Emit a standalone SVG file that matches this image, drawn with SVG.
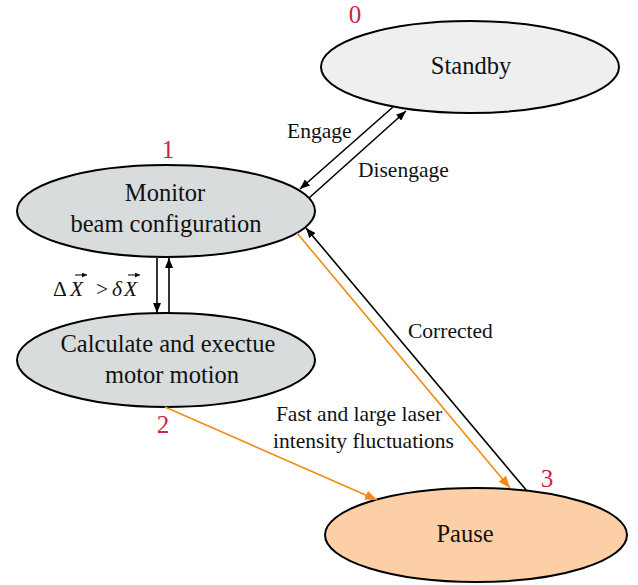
<svg xmlns="http://www.w3.org/2000/svg" width="638" height="585" viewBox="0 0 638 585">
<style>
.node{stroke:#000;stroke-width:2}
text{font-family:'Liberation Serif','DejaVu Serif',serif}
.t{font-size:24.5px;fill:#111;text-anchor:middle}
.l{font-size:21.5px;fill:#111}
.n{font-size:25px;fill:#d0204a;text-anchor:middle}
.k{stroke:#000;stroke-width:1.6;fill:none}
.o{stroke:#f28a12;stroke-width:1.6;fill:none}
.v{stroke:#111;stroke-width:1.1;fill:none}
</style>
<defs>
<marker id="ak" viewBox="0 0 10 8" refX="10" refY="4" markerWidth="10" markerHeight="8" markerUnits="userSpaceOnUse" orient="auto"><path d="M0,0L10,4L0,8z" fill="#000"/></marker>
<marker id="ao" viewBox="0 0 10 8" refX="10" refY="4" markerWidth="12" markerHeight="10" markerUnits="userSpaceOnUse" orient="auto"><path d="M0,0L10,4L0,8z" fill="#f28a12"/></marker>
<marker id="av" viewBox="0 0 6 6" refX="6" refY="3" markerWidth="5" markerHeight="5" markerUnits="userSpaceOnUse" orient="auto"><path d="M0,0L6,3L0,6z" fill="#111"/></marker>
</defs>
<rect width="638" height="585" fill="#fff"/>
<g id="standby"><ellipse class="node" cx="470" cy="67" rx="149" ry="46" fill="#eef0f0"/><text class="t" x="471" y="74">Standby</text><text class="n" x="355" y="23">0</text></g>
<g id="monitor"><ellipse class="node" cx="166" cy="211" rx="149" ry="46" fill="#d8dcdc"/><text class="t" x="165" y="201">Monitor</text><text class="t" x="166" y="232">beam configuration</text><text class="n" x="168" y="158">1</text></g>
<g id="calculate"><ellipse class="node" cx="166" cy="360" rx="149" ry="47" fill="#d8dcdc"/><text class="t" x="168" y="352">Calculate and exectue</text><text class="t" x="172" y="383">motor motion</text><text class="n" x="163" y="433">2</text></g>
<g id="pause"><ellipse class="node" cx="476" cy="535" rx="151" ry="47" fill="#fccfa6"/><text class="t" x="465" y="542">Pause</text><text class="n" x="547" y="487">3</text></g>
<g id="connectors">
<line class="k" x1="393" y1="107" x2="300" y2="189" marker-end="url(#ak)"/>
<line class="k" x1="309" y1="198" x2="406" y2="111" marker-end="url(#ak)"/>
<line class="k" x1="157" y1="258" x2="157" y2="313" marker-end="url(#ak)"/>
<line class="k" x1="169" y1="313" x2="169" y2="258" marker-end="url(#ak)"/>
<line class="o" x1="297" y1="233" x2="510" y2="488" marker-end="url(#ao)"/>
<line class="k" x1="527" y1="491" x2="306" y2="228" marker-end="url(#ak)"/>
<line class="o" x1="165" y1="407" x2="377" y2="500" marker-end="url(#ao)"/>
<text class="l" x="287" y="138">Engage</text>
<text class="l" x="358" y="177">Disengage</text>
<text class="l" x="408" y="338">Corrected</text>
<text class="l" x="359" y="421" text-anchor="middle">Fast and large laser</text>
<text class="l" x="363.5" y="448" text-anchor="middle">intensity fluctuations</text>
<text class="l" y="296" font-size="23"><tspan x="53">Δ</tspan><tspan x="70" font-style="italic">X</tspan><tspan x="96">&gt;</tspan><tspan x="112" font-style="italic">δ</tspan><tspan x="124" font-style="italic">X</tspan></text>
<line class="v" x1="75" y1="275" x2="87" y2="275" marker-end="url(#av)"/>
<line class="v" x1="128" y1="275" x2="140" y2="275" marker-end="url(#av)"/>
</g>
</svg>
